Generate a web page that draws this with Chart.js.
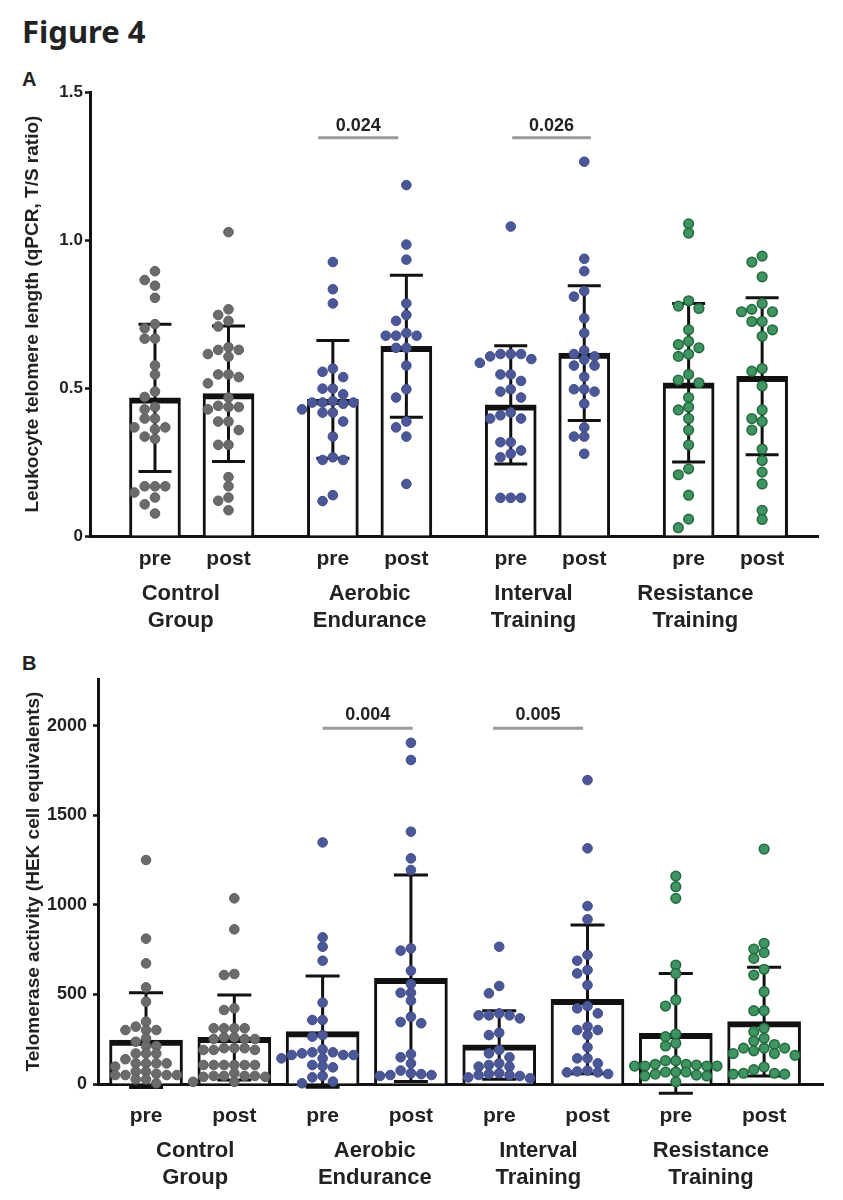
<!DOCTYPE html>
<html><head><meta charset="utf-8">
<script src="https://cdn.jsdelivr.net/npm/chart.js@4.4.0/dist/chart.umd.min.js"></script>
<style>
body{margin:0;background:#fff;width:843px;height:1200px;position:relative;overflow:hidden;font-family:"Liberation Sans",Arial,sans-serif;}
#fig{position:absolute;left:22px;top:10px;font:700 31px "Noto Sans",sans-serif;color:#222;white-space:nowrap;}
.pl{position:absolute;left:22px;font:700 20px "Liberation Sans",Arial,sans-serif;color:#222;}
canvas{position:absolute;left:0;}
</style></head><body>
<div id="fig">Figure 4</div>
<div class="pl" style="top:68px">A</div>
<div class="pl" style="top:652px">B</div>
<canvas id="cA" width="843" height="560" style="top:80px"></canvas>
<canvas id="cB" width="843" height="560" style="top:640px"></canvas>
<script>
// ---------- data ----------
const groups = ['Control Group', 'Aerobic Endurance', 'Interval Training', 'Resistance Training'];
const phases = ['pre', 'post'];

// Panel A: leukocyte telomere length (T/S ratio)
const titleA = 'Leukocyte telomere length (qPCR, T/S ratio)';
const yTicksA = [0, 0.5, 1.0, 1.5];
const yTickLabelsA = ['0', '0.5', '1.0', '1.5'];
const meanA = [0.467, 0.481, 0.462, 0.641, 0.443, 0.618, 0.518, 0.540];
const sdA   = [0.249, 0.229, 0.199, 0.240, 0.200, 0.228, 0.268, 0.265];
const ctrlPreA  = [0.895,0.865,0.846,0.805,0.716,0.702,0.667,0.667,0.577,0.546,0.488,0.47,0.436,0.428,0.397,0.397,0.367,0.367,0.361,0.336,0.328,0.168,0.168,0.168,0.147,0.13,0.107,0.076];
const ctrlPostA = [1.027,0.766,0.747,0.727,0.708,0.638,0.629,0.629,0.615,0.606,0.546,0.546,0.537,0.516,0.468,0.44,0.436,0.436,0.428,0.387,0.387,0.358,0.308,0.308,0.199,0.168,0.13,0.119,0.087];
const aeroPreA  = [0.926,0.834,0.786,0.566,0.555,0.537,0.498,0.498,0.479,0.456,0.451,0.451,0.451,0.447,0.428,0.417,0.417,0.387,0.336,0.266,0.257,0.257,0.138,0.118];
const aeroPostA = [1.186,0.985,0.934,0.786,0.747,0.727,0.686,0.677,0.677,0.677,0.636,0.636,0.576,0.496,0.468,0.387,0.367,0.336,0.176];
const intPreA   = [1.046,0.615,0.615,0.615,0.607,0.598,0.585,0.546,0.546,0.524,0.496,0.488,0.468,0.417,0.408,0.397,0.397,0.317,0.317,0.289,0.278,0.266,0.129,0.129,0.129];
const intPostA  = [1.265,0.937,0.895,0.828,0.809,0.736,0.686,0.627,0.615,0.607,0.596,0.576,0.576,0.538,0.496,0.496,0.488,0.447,0.367,0.336,0.336,0.278];
const resPreA   = [1.055,1.024,0.795,0.777,0.769,0.697,0.658,0.647,0.636,0.615,0.607,0.546,0.527,0.518,0.468,0.436,0.426,0.397,0.358,0.308,0.227,0.207,0.138,0.057,0.028];
const resPostA  = [0.946,0.926,0.876,0.786,0.766,0.758,0.758,0.725,0.725,0.697,0.675,0.566,0.557,0.507,0.426,0.397,0.387,0.358,0.294,0.255,0.216,0.176,0.087,0.056];
const sigTextA  = ['0.024', '0.026'];
const sigPairsA = [[2, 3], [4, 5]];
const sigLevelA = 1.346;

// Panel B: telomerase activity (HEK cell equivalents)
const titleB = 'Telomerase activity (HEK cell equivalents)';
const yTicksB = [0, 500, 1000, 1500, 2000];
const yTickLabelsB = ['0', '500', '1000', '1500', '2000'];
const meanB = [245, 260, 292, 590, 218, 472, 283, 348];
const sdB   = [264, 237, 310, 576, 191, 415, 334, 303];
const ctrlPreB  = [1250,811,673,539,459,348,320,301,301,301,255,236,212,212,170,170,170,138,115,115,115,115,97,69,69,57,50,50,50,50,26,26,4];
const ctrlPostB = [1036,863,614,608,422,413,311,311,311,311,260,260,251,251,251,200,200,190,190,190,200,106,106,106,106,106,106,45,45,40,40,45,45,60,12,12];
const aeroPreB  = [1348,818,766,688,454,357,357,273,264,193,177,162,162,162,171,177,143,143,100,93,106,37,13,45,4];
const aeroPostB = [1904,1808,1408,1259,1194,757,744,632,558,509,509,465,375,346,339,167,149,115,60,50,45,50,55,75];
const intPreB   = [766,547,506,394,383,383,366,383,286,273,171,190,115,97,97,106,149,60,50,32,37,45,50,56];
const intPostB  = [1696,1315,993,919,720,688,636,617,552,435,394,422,320,301,301,273,205,143,143,115,56,65,75,65,70];
const resPreB   = [1160,1101,1036,664,617,469,435,264,279,227,212,130,130,110,100,100,110,100,100,106,67,55,45,67,45,50,67,12];
const resPostB  = [1311,785,753,733,701,640,608,515,409,409,311,292,255,240,220,200,200,200,185,170,160,170,95,80,60,55,60,55];
const sigTextB  = ['0.004', '0.005'];
const sigPairsB = [[2, 3], [4, 5]];
const sigLevelB = 1985;

const pointsA = [ctrlPreA, ctrlPostA, aeroPreA, aeroPostA, intPreA, intPostA, resPreA, resPostA];
const pointsB = [ctrlPreB, ctrlPostB, aeroPreB, aeroPostB, intPreB, intPostB, resPreB, resPostB];

// ---------- styles ----------
const FONT = '"Liberation Sans", Arial, sans-serif';
const INK = '#222';
const fillCol = ['#6b6b6b', '#4b5796', '#4b5796', '#409462'];
const edgeCol = ['#5e5e5e', '#414d8a', '#414d8a', '#256b40'];

// ---------- plugins ----------
const swarm = {
  id: 'swarm',
  beforeDatasetsDraw(chart, args, o) {
    const d = o.step;
    const xs = chart.scales.x;
    chart.data.datasets.forEach((ds, i) => {
      if (ds.type !== 'scatter') return;
      const meta = chart.getDatasetMeta(i);
      const cx = xs.getPixelForValue(ds.data[0].x);
      const els = meta.data.slice().sort((a, b) => a.y - b.y);
      const placed = [];
      els.forEach(el => {
        for (const k of [0, -1, 1, -2, 2, -3, 3, -4, 4, -5, 5]) {
          if (!placed.some(p => p.k === k && Math.abs(p.y - el.y) < d * o.overlap)) {
            placed.push({k, y: el.y});
            el.x = cx + k * d;
            break;
          }
        }
      });
    });
  }
};

const errbars = {
  id: 'errbars',
  afterDatasetDraw(chart, args, o) {
    const ds = chart.data.datasets[args.index];
    if (ds.type !== 'bar') return;
    const xs = chart.scales.x, ys = chart.scales.y, ctx = chart.ctx;
    ctx.save();
    ctx.strokeStyle = '#111';
    ctx.lineWidth = o.width;
    ds.data.forEach((p, i) => {
      const px = xs.getPixelForValue(p.x);
      const yt = ys.getPixelForValue(p.y + o.sd[i]);
      const yb = ys.getPixelForValue(p.y - o.sd[i]);
      ctx.beginPath();
      ctx.moveTo(px, yt); ctx.lineTo(px, yb);
      ctx.moveTo(px - o.cap / 2, yt); ctx.lineTo(px + o.cap / 2, yt);
      ctx.moveTo(px - o.cap / 2, yb); ctx.lineTo(px + o.cap / 2, yb);
      ctx.stroke();
    });
    ctx.restore();
  }
};

const annot = {
  id: 'annot',
  afterDraw(chart, args, o) {
    const ctx = chart.ctx, xs = chart.scales.x, ys = chart.scales.y;
    ctx.save();
    ctx.fillStyle = INK;
    ctx.textAlign = 'center';
    ctx.textBaseline = 'middle';
    ctx.font = 'bold 22px ' + FONT;
    groups.forEach((g, i) => {
      const cx = (xs.getPixelForValue(o.pos[2 * i]) + xs.getPixelForValue(o.pos[2 * i + 1])) / 2 + o.shift[i];
      g.split(' ').forEach((line, j) => ctx.fillText(line, cx, o.y0 + j * o.dy));
    });
    o.sigPairs.forEach((pr, i) => {
      const x1 = xs.getPixelForValue(o.pos[pr[0]] + o.sigOff[i][0]);
      const x2 = xs.getPixelForValue(o.pos[pr[1]] + o.sigOff[i][1]);
      const yy = ys.getPixelForValue(o.sigLevel);
      ctx.strokeStyle = '#9a9a9a';
      ctx.lineWidth = 3;
      ctx.beginPath(); ctx.moveTo(x1, yy); ctx.lineTo(x2, yy); ctx.stroke();
      ctx.font = 'bold 18px ' + FONT;
      ctx.fillText(o.sigText[i], (x1 + x2) / 2, yy - o.sigGap);
    });
    ctx.restore();
  }
};

function makeChart(id, cfg) {
  const datasets = [{
    type: 'bar',
    data: cfg.pos.map((x, i) => ({x, y: cfg.mean[i]})),
    backgroundColor: '#fff',
    borderColor: '#111',
    borderWidth: {top: 6, left: 3, right: 3, bottom: 0},
    borderSkipped: 'start',
    barThickness: cfg.barW,
    order: 3
  }];
  cfg.points.forEach((arr, i) => {
    const g = Math.floor(i / 2);
    datasets.push({
      type: 'scatter',
      data: arr.map(v => ({x: cfg.pos[i], y: v})),
      pointRadius: 4.8,
      pointBackgroundColor: fillCol[g],
      pointBorderColor: edgeCol[g],
      pointBorderWidth: g === 3 ? 1.6 : 1,
      showLine: false,
      clip: false,
      order: 1
    });
  });
  return new Chart(document.getElementById(id), {
    type: 'bar',
    data: {datasets},
    plugins: [swarm, errbars, annot],
    options: {
      responsive: false,
      animation: false,
      devicePixelRatio: 1,
      layout: {padding: cfg.padding},
      plugins: {
        legend: {display: false},
        tooltip: {enabled: false},
        swarm: {step: 10.3, overlap: cfg.overlap},
        errbars: {sd: cfg.sd, cap: cfg.cap, width: 3},
        annot: {pos: cfg.pos, shift: cfg.shift, y0: cfg.groupY, dy: 27,
                sigPairs: cfg.sigPairs, sigOff: cfg.sigOff, sigText: cfg.sigText,
                sigLevel: cfg.sigLevel, sigGap: cfg.sigGap}
      },
      scales: {
        x: {
          type: 'linear', min: cfg.xmin, max: cfg.xmax, offset: false,
          grid: {display: false},
          border: {display: true, color: '#111', width: 3},
          afterBuildTicks: s => { s.ticks = cfg.pos.map(v => ({value: v})); },
          ticks: {autoSkip: false, maxRotation: 0, minRotation: 0, padding: cfg.xPad, color: INK,
                  font: {family: FONT, size: 21, weight: 'bold'},
                  callback: (v, i) => phases[i % 2]},
          afterFit: s => { s.height = cfg.xH; }
        },
        y: {
          min: 0, max: cfg.ymax,
          afterBuildTicks: s => { s.ticks = cfg.yTicks.map(v => ({value: v})); },
          ticks: {padding: cfg.yPad, color: INK, font: {family: FONT, size: cfg.tickSize, weight: 'bold'},
                  callback: (v, i) => cfg.yLabels[i]},
          grid: {display: true, drawOnChartArea: false, drawTicks: true, tickLength: 5, tickWidth: 2.5, tickColor: '#111', color: '#111'},
          border: {display: true, color: '#111', width: 3},
          title: {display: true, text: cfg.title, color: INK, font: {family: FONT, size: 19, weight: 'bold'},
                  padding: {top: cfg.titlePad, bottom: 0}},
          afterFit: s => { s.width = cfg.yW; }
        }
      }
    }
  });
}

const groupStepA = 2.42, groupStepB = 2;
const posA = [], posB = [];
for (let g = 0; g < groups.length; g++) {
  for (let p = 0; p < phases.length; p++) {
    posA.push(+(g * groupStepA + p).toFixed(2));
    posB.push(g * groupStepB + p);
  }
}

makeChart('cA', {
  pos: posA, mean: meanA, sd: sdA, points: pointsA, barW: 51, cap: 33, overlap: 0.88,
  padding: {top: 10, right: 25, left: 0, bottom: 0},
  xmin: -0.884, xmax: 9.02, xH: 104, xPad: 3,
  ymax: 1.5, yTicks: yTicksA, yLabels: yTickLabelsA, tickSize: 17, yPad: 2, yW: 90,
  title: titleA, titlePad: 21,
  shift: [-11, 0, -14, -30], groupY: 514,
  sigPairs: sigPairsA, sigOff: [[-0.20, -0.11], [0.02, 0.09]], sigText: sigTextA, sigLevel: sigLevelA, sigGap: 12
});

makeChart('cB', {
  pos: posB, mean: meanB, sd: sdB, points: pointsB, barW: 73, cap: 34, overlap: 0.72,
  padding: {top: 39, right: 20, left: 0, bottom: 0},
  xmin: -0.544, xmax: 7.667, xH: 116, xPad: 12,
  ymax: 2260, yTicks: yTicksB, yLabels: yTickLabelsB, tickSize: 18, yPad: 6, yW: 98,
  title: titleB, titlePad: 22,
  shift: [5, 8, -5, -9], groupY: 511,
  sigPairs: sigPairsB, sigOff: [[0, 0.02], [-0.07, -0.05]], sigText: sigTextB, sigLevel: sigLevelB, sigGap: 13
});
</script>
</body></html>
